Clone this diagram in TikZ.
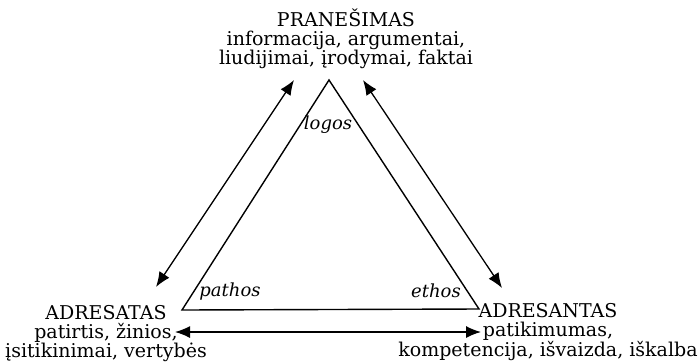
\documentclass[tikz,border=0pt]{standalone}
\usepackage{fontspec}
\setmainfont{DejaVu Serif}
\usetikzlibrary{arrows.meta}

\begin{document}
\begin{tikzpicture}[x=1pt, y=-1pt,
	txt/.style={font=\fontsize{19}{19}\selectfont, inner sep=0pt, anchor=north, align=center},
	lbl/.style={font=\fontsize{18}{18}\selectfont\itshape, inner sep=0pt, anchor=base},
	arr/.style={{Latex[length=15pt,width=12pt]}-{Latex[length=15pt,width=12pt]}, line width=1.3pt}]
	\useasboundingbox (0, 0) rectangle (700, 362);
	\coordinate (top) at (329, 80);
	\coordinate (left) at (182, 310);
	\coordinate (right) at (479, 309);
	\draw[line width=1.4pt] (top) -- (left) -- (right) -- cycle;
	\node[txt] (pran) at (346, 9) {PRANEŠIMAS\\informacija, argumentai,\\liudijimai, įrodymai, faktai};
	\node[txt] (adresatas) at (106, 305) {ADRESATAS\\patirtis, žinios,\\įsitikinimai, vertybės};
	\node[txt] (adresantas) at (548, 303) {ADRESANTAS\\patikimumas,\\kompetencija, išvaizda, iškalba};
	\node[lbl] (logos) at (328, 129) {logos};
	\node[lbl] (pathos) at (230, 296) {pathos};
	\node[lbl] (ethos) at (436, 297) {ethos};
	\coordinate (a1) at (156, 287);
	\coordinate (a2) at (294, 80);
	\coordinate (b1) at (363, 80);
	\coordinate (b2) at (502, 288);
	\coordinate (c1) at (175, 332);
	\coordinate (c2) at (481, 332);
	\draw[arr] (a1) -- (a2);
	\draw[arr] (b1) -- (b2);
	\draw[arr] (c1) -- (c2);
\end{tikzpicture}
\end{document}
